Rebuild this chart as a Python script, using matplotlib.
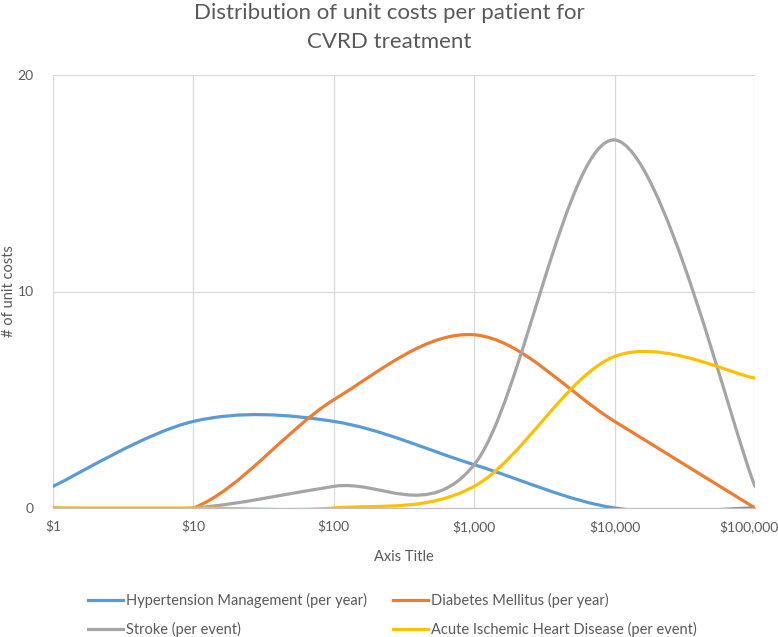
import matplotlib
matplotlib.use("Agg")
import matplotlib.pyplot as plt
from matplotlib.path import Path
from matplotlib.patches import PathPatch
from matplotlib.lines import Line2D
from matplotlib.transforms import ScaledTranslation

categories = ["$1", "$10", "$100", "$1,000", "$10,000", "$100,000"]
hypertension = [1, 4, 4, 2, 0, 0]
diabetes = [0, 0, 5, 8, 4, 0]
stroke = [0, 0, 1, 2, 17, 1]
ischemic = [0, 0, 0, 1, 7, 6]

series_names = ["Hypertension Management (per year)", "Diabetes Mellitus (per year)",
                "Stroke (per event)", "Acute Ischemic Heart Disease (per event)"]
colors = ["#5B9BD5", "#ED7D31", "#A5A5A5", "#FFC000"]

plt.rcParams['font.family'] = ['Lato', 'DejaVu Sans']
TXT = "#595959"

fig = plt.figure(figsize=(7.78, 6.37), dpi=100)
ax = fig.add_axes([53/778, 1-508/637, (755-53)/778, (508-75)/637])


def smooth_path(ys):
    xs = list(range(len(ys)))
    n = len(ys)
    verts = [(xs[0], ys[0])]
    codes = [Path.MOVETO]
    for i in range(n - 1):
        p0 = (xs[max(i - 1, 0)], ys[max(i - 1, 0)])
        p1 = (xs[i], ys[i])
        p2 = (xs[i + 1], ys[i + 1])
        p3 = (xs[min(i + 2, n - 1)], ys[min(i + 2, n - 1)])
        c1 = (p1[0] + (p2[0] - p0[0]) / 6, p1[1] + (p2[1] - p0[1]) / 6)
        c2 = (p2[0] - (p3[0] - p1[0]) / 6, p2[1] - (p3[1] - p1[1]) / 6)
        verts += [c1, c2, p2]
        codes += [Path.CURVE4] * 3
    return Path(verts, codes)


for data, col in zip([hypertension, diabetes, stroke, ischemic], colors):
    patch = PathPatch(smooth_path(data), facecolor='none', edgecolor=col,
                      lw=2.3, capstyle='round', joinstyle='round', zorder=3)
    ax.add_patch(patch)

ax.set_xlim(0, len(categories) - 1)
ax.set_ylim(0, 20)
ax.set_xticks(range(len(categories)))
ax.set_xticklabels(categories)
ax.set_yticks([0, 10, 20])
ax.grid(True, color="#D9D9D9", lw=0.9, zorder=0)
ax.set_axisbelow(True)
for s in ['top', 'right', 'left']:
    ax.spines[s].set_visible(False)
ax.spines['bottom'].set_color("#BFBFBF")
ax.tick_params(length=0, colors=TXT, labelsize=10)
ax.tick_params(axis='x', pad=9)
ax.tick_params(axis='y', pad=14)

# keep last category label inside the figure
last = ax.get_xticklabels()[-1]
last.set_transform(last.get_transform() + ScaledTranslation(-6/100, 0, fig.dpi_scale_trans))

ax.set_xlabel("Axis Title", color=TXT, fontsize=10.5, labelpad=12)
ax.set_ylabel("# of unit costs", color=TXT, fontsize=10.5)
ax.yaxis.set_label_coords(-37/702, 0.5)

fig.text(0.5, 1 - 13/637, "Distribution of unit costs per patient for", ha='center', va='center',
         fontsize=16, color=TXT)
fig.text(0.5, 1 - 42/637, "CVRD treatment", ha='center', va='center',
         fontsize=16, color=TXT)

handles = [Line2D([0], [0], color=c, lw=2.3) for c in colors]
order = [0, 2, 1, 3]
fig.legend([handles[i] for i in order], [series_names[i] for i in order],
           loc='center left', bbox_to_anchor=(75/778, 1 - 615/637), ncol=2,
           frameon=False, fontsize=10.5, labelcolor=TXT, handlelength=2.4,
           handletextpad=0.2, columnspacing=1.8, labelspacing=0.95)

fig.savefig("out.png", dpi=100)
